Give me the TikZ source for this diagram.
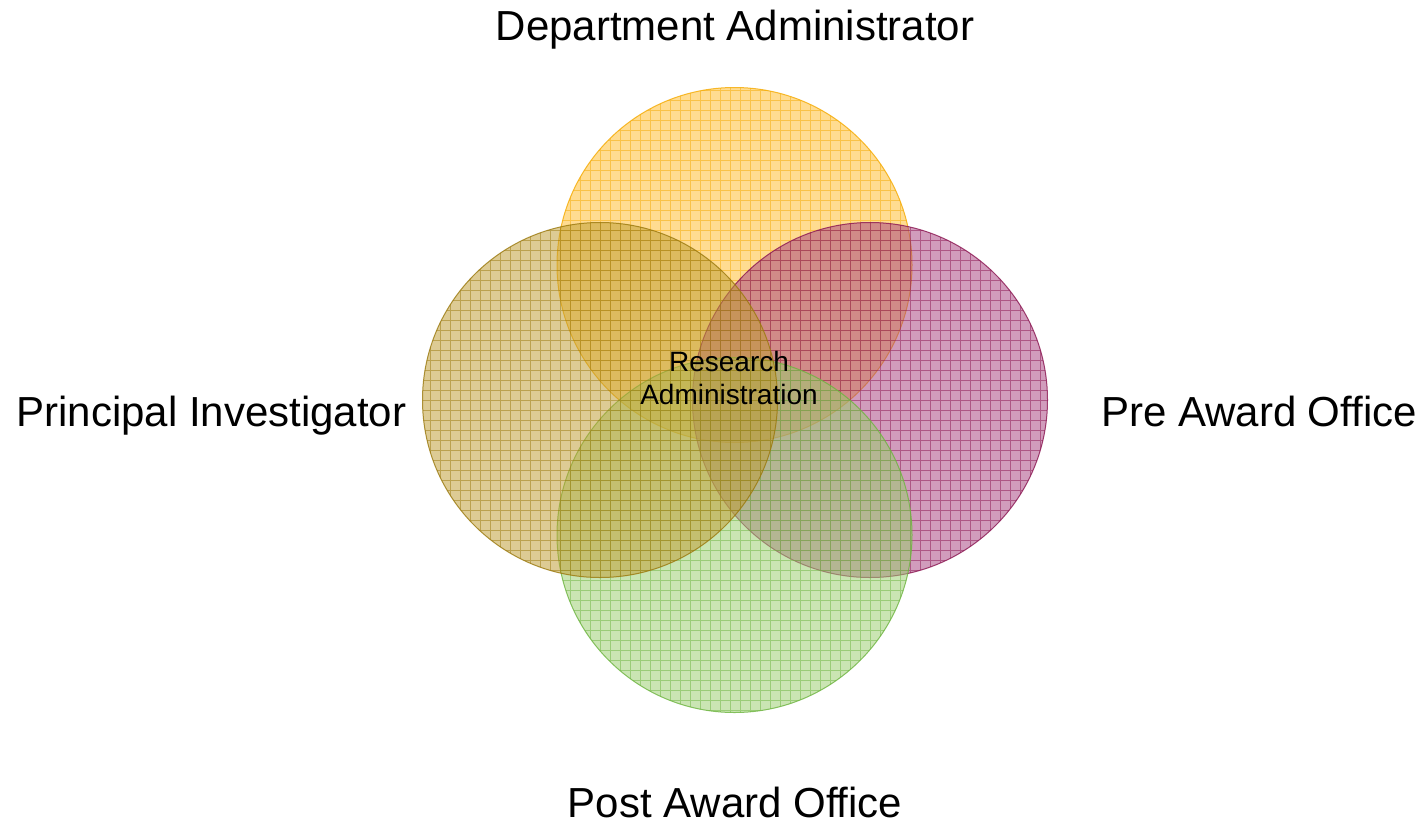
\documentclass[tikz,border=0pt]{standalone}
\usepackage{fontspec}
\setmainfont{Liberation Sans}
\pgfdeclareradialshading{bgshade}{\pgfpoint{0bp}{0bp}}{color(0bp)=(white); color(36bp)=(white); color(72bp)=(black!7)}
\definecolor{ylwF}{HTML}{FFBC2E}
\definecolor{ylwG}{HTML}{F5AA00}
\definecolor{olvF}{HTML}{BF9D33}
\definecolor{olvG}{HTML}{9A780C}
\definecolor{marF}{HTML}{A84280}
\definecolor{marG}{HTML}{8A1450}
\definecolor{grnF}{HTML}{9BCE6F}
\definecolor{grnG}{HTML}{6CB43E}
\tikzset{
  outerlabel/.style={font=\fontsize{21pt}{25pt}\selectfont, anchor=base, inner sep=0pt, text=black},
  innerlabel/.style={font=\fontsize{14pt}{17pt}\selectfont, anchor=base, inner sep=0pt, text=black},
}
\newcommand{\venncircle}[3]{%
  \fill[#2, fill opacity=0.52] #1 circle[radius=88.75pt];
  \begin{scope}
    \clip #1 circle[radius=88.75pt];
    \draw[#3, line width=0.45pt, opacity=0.5, step=5pt] (0,0) grid (1424,826);
  \end{scope}
  \draw[#3, line width=0.5pt, opacity=0.8] #1 circle[radius=88.75pt];
}
\begin{document}
\begin{tikzpicture}[x=0.5pt,y=-0.5pt]
\useasboundingbox (0,0) rectangle (1424,826);
\path[shading=bgshade] (0,0) rectangle (1424,826);
\venncircle{(734.5,265)}{ylwF}{ylwG}
\venncircle{(870,400)}{marF}{marG}
\venncircle{(734.5,535)}{grnF}{grnG}
\venncircle{(600,400)}{olvF}{olvG}
\node[outerlabel] (dept) at (735,40) {Department Administrator};
\node[outerlabel] (pi) at (211.5,426) {Principal Investigator};
\node[outerlabel] (pre) at (1259,426) {Pre Award Office};
\node[outerlabel] (post) at (735,817) {Post Award Office};
\node[innerlabel] (ra1) at (729,371) {Research};
\node[innerlabel] (ra2) at (729,404) {Administration};
\end{tikzpicture}
\end{document}
